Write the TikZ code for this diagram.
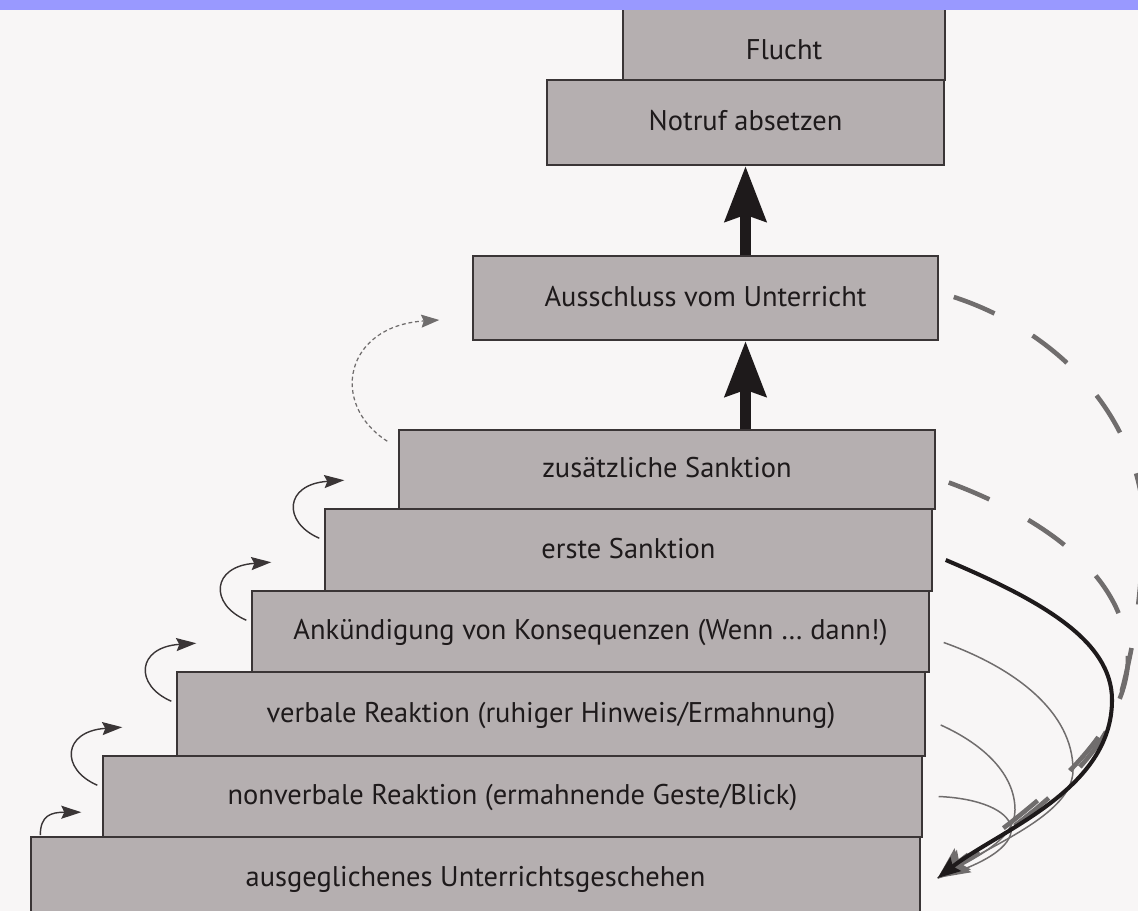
\documentclass[tikz,border=0pt]{standalone}
\usepackage{fontspec}
\setmainfont{PT Sans}
\usetikzlibrary{arrows.meta}
\definecolor{paper}{RGB}{248,246,246}
\definecolor{stepgray}{RGB}{181,175,176}
\definecolor{edgegray}{RGB}{58,53,54}
\definecolor{inkblack}{RGB}{30,26,27}
\definecolor{backgray}{RGB}{112,109,109}
\definecolor{bandblue}{RGB}{153,153,255}
\tikzset{
  stepbox/.style={draw=edgegray, fill=stepgray, line width=0.9pt, inner sep=0pt,
    text=inkblack, font=\fontsize{16.2}{19}\selectfont, text height=2.2ex, text depth=0.3ex},
  bigarrow/.style={draw=inkblack, line width=6.8pt,
    -{Stealth[length=1.1cm, width=0.8cm, inset=0.12cm]}},
  stepup/.style={draw=edgegray, line width=0.8pt,
    -{Stealth[length=0.4cm, width=0.26cm, inset=0.06cm]}},
  jumpup/.style={draw=backgray, line width=0.7pt, dash pattern=on 2.2pt off 1.6pt,
    -{Stealth[length=0.36cm, width=0.26cm, inset=0.05cm]}},
  backdash/.style={draw=backgray, line width=2.6pt, dash pattern=on 0.88cm off 0.88cm,
    -{Stealth[length=0.62cm, width=0.52cm, inset=0.1cm]}},
  backsolid/.style={draw=inkblack, line width=2.3pt,
    -{Stealth[length=0.45cm, width=0.34cm, inset=0.07cm]}},
  backthin/.style={draw=backgray, line width=0.85pt}
}
\begin{document}
\begin{tikzpicture}[x=0.02cm, y=-0.02cm]
\useasboundingbox (0,0) rectangle (1138,911);
\fill[paper] (0,0) rectangle (1138,911);

\path (475.5,878) node[stepbox, name=ausgegl, minimum width=17.78cm, minimum height=1.64cm] {ausgeglichenes Unterrichtsgeschehen};
\path (512.5,796.5) node[stepbox, name=nonverbal, minimum width=16.38cm, minimum height=1.62cm] {nonverbale Reaktion (ermahnende Geste/Blick)};
\path (551,714) node[stepbox, name=verbal, minimum width=14.96cm, minimum height=1.68cm] {verbale Reaktion (ruhiger Hinweis/Ermahnung)};
\path (590.5,631.5) node[stepbox, name=ankuend, minimum width=13.54cm, minimum height=1.62cm] {Ankündigung von Konsequenzen (Wenn … dann!)};
\path (628.5,550) node[stepbox, name=erste, minimum width=12.14cm, minimum height=1.64cm] {erste Sanktion};
\path (667,469.5) node[stepbox, name=zusatz, minimum width=10.72cm, minimum height=1.58cm] {zusätzliche Sanktion};
\path (705.5,298) node[stepbox, name=ausschluss, minimum width=9.30cm, minimum height=1.68cm] {Ausschluss vom Unterricht};
\path (745.5,122.5) node[stepbox, name=notruf, minimum width=7.94cm, minimum height=1.70cm] {Notruf absetzen};
\path (784,37.5) node[stepbox, name=flucht, minimum width=6.44cm, minimum height=1.70cm] {\raisebox{-0.28cm}{Flucht}};

\draw[bigarrow] (zusatz.north -| notruf.south) -- (ausschluss.south -| notruf.south);
\draw[bigarrow] (ausschluss.north -| notruf.south) -- (notruf.south);

\draw[stepup] ([shift={(10,-1)}]ausgegl.north west) .. controls +(0,-20) and +(-30,0) .. ([shift={(51,-24)}]ausgegl.north west);
\foreach \b in {nonverbal,verbal,ankuend,erste}
  \draw[stepup] ([shift={(-5,30)}]\b.north west) .. controls +(-37,-16) and +(-60,4) .. ([shift={(20,-28)}]\b.north west);
\draw[jumpup] ([shift={(-11,12)}]zusatz.north west) .. controls +(-58,-37) and +(-95,6) .. ([shift={(-33,22)}]ausschluss.west);

\coordinate (calm) at ([shift={(17,0)}]ausgegl.east);
\draw[backthin] ([shift={(16,0)}]nonverbal.east) .. controls (1020,800) and (1050,845) .. (calm);
\draw[backthin] ([shift={(15,11)}]verbal.east) .. controls (985,745) and (1015,775) .. (1015,810) .. controls (1015,840) and (975,858) .. (calm);
\draw[backthin] ([shift={(14,11)}]ankuend.east) .. controls (1015,668) and (1073,712) .. (1073,770) .. controls (1073,815) and (990,845) .. (calm);
\draw[backdash] ([shift={(13,13)}]zusatz.east) .. controls (1050,520) and (1128,580) .. (1128,660) .. controls (1125,745) and (1020,815) .. (calm);
\draw[backdash] ([shift={(15,-1)}]ausschluss.east) .. controls (1040,325) and (1125,395) .. (1142,500) .. controls (1145,580) and (1135,640) .. (1122,690) .. controls (1110,760) and (1020,825) .. (calm);
\draw[backsolid] ([shift={(13,10)}]erste.east) .. controls (1040,600) and (1112,640) .. (1112,700) .. controls (1112,790) and (1000,830) .. (calm);

\fill[bandblue] (0,0) rectangle (1138,10);
\end{tikzpicture}
\end{document}
